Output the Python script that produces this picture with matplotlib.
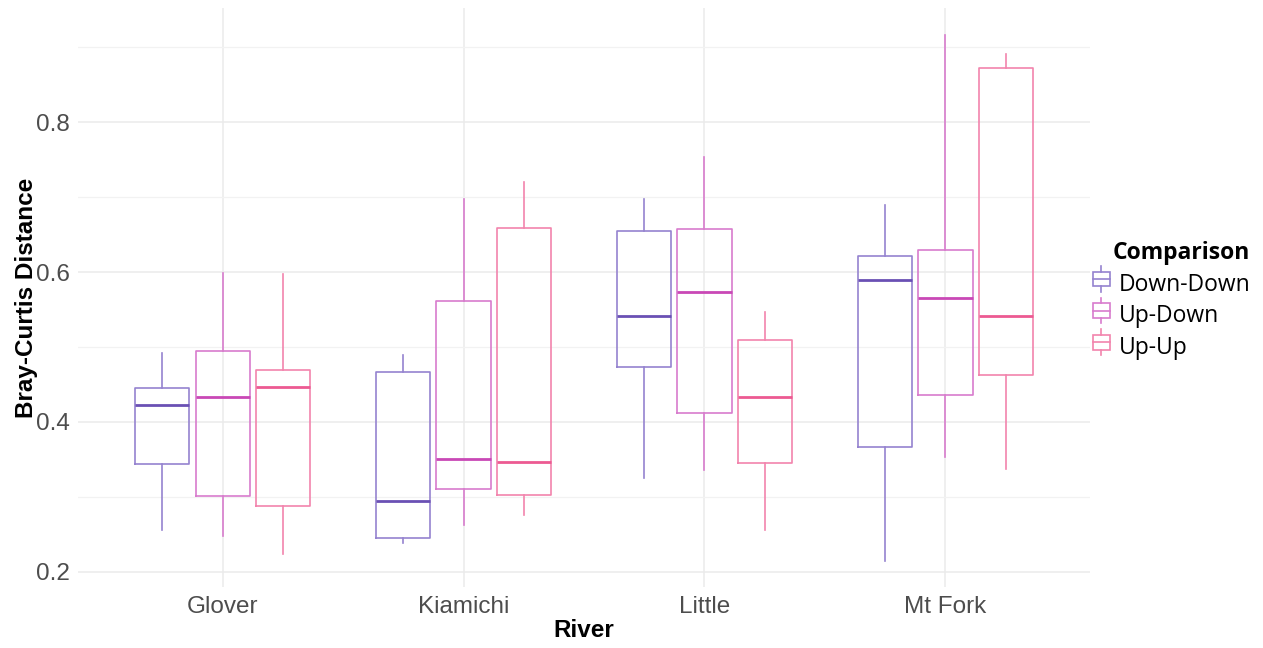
import numpy as np
import matplotlib
matplotlib.use("Agg")
import matplotlib.pyplot as plt
from matplotlib.legend_handler import HandlerBase
from matplotlib.patches import Rectangle
from matplotlib.lines import Line2D

rivers = ["Glover", "Kiamichi", "Little", "Mt Fork"]
comparisons = ["Down-Down", "Up-Down", "Up-Up"]

# five-number summaries per river: (whisker low, Q1, median, Q3, whisker high)
down_down = [
    (0.255, 0.344, 0.422, 0.445, 0.492),
    (0.238, 0.245, 0.294, 0.467, 0.489),
    (0.325, 0.473, 0.541, 0.655, 0.697),
    (0.214, 0.366, 0.589, 0.621, 0.689),
]
up_down = [
    (0.248, 0.301, 0.433, 0.494, 0.599),
    (0.262, 0.310, 0.351, 0.561, 0.697),
    (0.336, 0.412, 0.574, 0.657, 0.754),
    (0.353, 0.436, 0.565, 0.629, 0.917),
]
up_up = [
    (0.223, 0.288, 0.447, 0.469, 0.598),
    (0.276, 0.302, 0.347, 0.659, 0.720),
    (0.256, 0.345, 0.433, 0.509, 0.547),
    (0.337, 0.463, 0.541, 0.873, 0.891),
]
series = [down_down, up_down, up_up]

box_colors = ["#9583cf", "#d87ccd", "#f284ad"]
median_colors = ["#6a50b4", "#c948b6", "#ec5a92"]

fig = plt.figure(figsize=(12.63, 6.48), dpi=100)
ax = fig.add_axes([0.0618, 0.0934, 0.8012, 0.8938])

offsets = [-0.25, 0.0, 0.25]
for k, data in enumerate(series):
    stats = []
    for lo, q1, med, q3, hi in data:
        stats.append(dict(whislo=lo, q1=q1, med=med, q3=q3, whishi=hi, fliers=[]))
    pos = np.arange(1, len(rivers) + 1) + offsets[k]
    ax.bxp(stats, positions=pos, widths=0.225, showcaps=False, showfliers=False,
           patch_artist=False, manage_ticks=False,
           boxprops=dict(color=box_colors[k], linewidth=1.2),
           whiskerprops=dict(color=box_colors[k], linewidth=1.2),
           medianprops=dict(color=median_colors[k], linewidth=2.0,
                            solid_capstyle="butt"))

# y range with ggplot-style 5% padding
all_vals = np.array(series).ravel()
pad = (all_vals.max() - all_vals.min()) * 0.05
ax.set_ylim(all_vals.min() - pad, all_vals.max() + pad)
ax.set_xlim(0.4, 4.6)

ax.set_xticks(np.arange(1, len(rivers) + 1))
ax.set_xticklabels(rivers)
ax.set_yticks([0.2, 0.4, 0.6, 0.8])
ax.set_yticks([0.3, 0.5, 0.7, 0.9], minor=True)
ax.set_yticklabels(["0.2", "0.4", "0.6", "0.8"])

ax.grid(True, which="major", color="#ebebeb", linewidth=1.1)
ax.grid(True, which="minor", axis="y", color="#f2f2f2", linewidth=0.9)
ax.set_axisbelow(True)
for s in ax.spines.values():
    s.set_visible(False)
ax.tick_params(which="both", length=0, labelsize=17.5, labelcolor="#4d4d4d",
               pad=6)
for lab in ax.get_xticklabels() + ax.get_yticklabels():
    lab.set_family("Liberation Sans")

ax.set_xlabel("River", fontsize=17.5, fontweight="bold", family="Liberation Sans",
              labelpad=1)
ax.set_ylabel("Bray-Curtis Distance", fontsize=17.5, fontweight="bold",
              family="Liberation Sans", labelpad=-1.5)


class BoxKey(HandlerBase):
    def create_artists(self, legend, orig, xd, yd, width, height, fontsize, trans):
        c = orig.get_color()
        cx = xd + width / 2
        w = width * 0.9
        h = height * 0.75
        box = Rectangle((cx - w / 2, yd + height / 2 - h / 2), w, h,
                        fill=False, edgecolor=c, linewidth=1.2, transform=trans)
        mid = Line2D([cx - w / 2, cx + w / 2], [yd + height / 2] * 2,
                     color=c, linewidth=1.2, transform=trans)
        top = Line2D([cx, cx], [yd + height / 2 + h / 2, yd + height * 1.15],
                     color=c, linewidth=1.2, transform=trans)
        bot = Line2D([cx, cx], [yd + height / 2 - h / 2, yd - height * 0.15],
                     color=c, linewidth=1.2, transform=trans)
        return [box, mid, top, bot]


handles = [Line2D([], [], color=c) for c in box_colors]
leg = fig.legend(handles, comparisons, handler_map={Line2D: BoxKey()},
                 loc="center left", bbox_to_anchor=(0.852, 0.536), frameon=False,
                 title="Comparison", handlelength=0.8, handleheight=0.95,
                 handletextpad=0.35, labelspacing=0.33, borderpad=0.2,
                 prop=dict(family="Open Sans", size=16.5))
leg.get_title().set_fontproperties(dict(family="Open Sans", size=16.5, weight="bold"))
leg._legend_box.align = "right"

fig.savefig("out.png", dpi=100)
